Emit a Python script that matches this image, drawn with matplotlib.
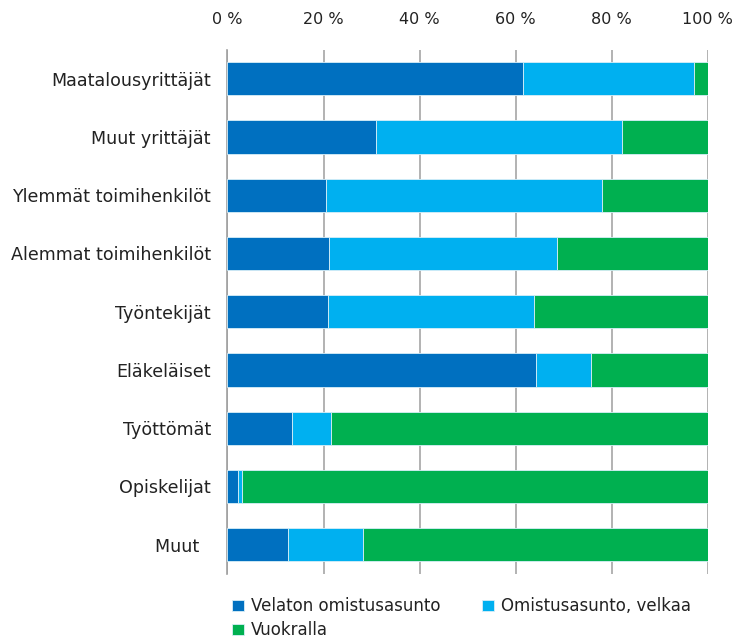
import matplotlib
matplotlib.use("Agg")
import matplotlib.pyplot as plt
import numpy as np
from matplotlib.ticker import FuncFormatter

categories = ["Maatalousyrittäjät", "Muut yrittäjät", "Ylemmät toimihenkilöt",
              "Alemmat toimihenkilöt", "Työntekijät", "Eläkeläiset",
              "Työttömät", "Opiskelijat", "Muut  "]
velaton = [61.5, 30.9, 20.5, 21.2, 20.9, 64.2, 13.5, 2.2, 12.6]
velkaa = [35.7, 51.3, 57.4, 47.4, 42.9, 11.4, 8.0, 0.9, 15.6]
vuokralla = [2.8, 17.8, 22.1, 31.4, 36.2, 24.4, 78.5, 96.9, 71.8]
series_names = ["Velaton omistusasunto", "Omistusasunto, velkaa", "Vuokralla"]
colors = ["#0070C0", "#00B0F0", "#00B050"]
xticks = [0, 20, 40, 60, 80, 100]

fig = plt.figure(figsize=(7.36, 6.41), dpi=100)
ax = fig.add_axes([0.309, 0.105, 0.6527, 0.8175])

y = np.arange(len(categories))
left = np.zeros(len(categories))
handles = []
for vals, c, name in zip([velaton, velkaa, vuokralla], colors, series_names):
    h = ax.barh(y, vals, left=left, height=0.57, color=c, edgecolor="#d8eef8",
                linewidth=0.6, label=name, zorder=3)
    handles.append(h)
    left = left + np.array(vals)

ax.set_ylim(len(categories) - 0.5, -0.5)
ax.set_xlim(0, 100)
ax.set_yticks(y)
ax.set_yticklabels(categories, fontsize=12.6, color="#222222")
ax.set_xticks(xticks)
ax.xaxis.set_major_formatter(FuncFormatter(lambda v, p: f"{int(v)} %"))
ax.xaxis.tick_top()
ax.tick_params(axis="x", which="both", top=True, bottom=False, length=0,
               labelsize=11.5, labelcolor="#222222", pad=16)
ax.tick_params(axis="y", length=0, pad=12)
ax.grid(axis="x", color="#a6a6a6", linewidth=1.2, zorder=0)
for s in ["top", "right", "bottom"]:
    ax.spines[s].set_visible(False)
ax.spines["left"].set_color("#a0a0a0")
ax.spines["left"].set_linewidth(1.2)

order = [0, 2, 1]
leg = fig.legend(handles=[handles[i] for i in order],
                 labels=[series_names[i] for i in order], ncol=2,
                 loc="upper left", bbox_to_anchor=(0.315, 0.068), frameon=False,
                 fontsize=12, handlelength=0.7, handleheight=0.7,
                 handletextpad=0.45, columnspacing=2.5, labelspacing=0.35,
                 borderaxespad=0, borderpad=0)
for t in leg.get_texts():
    t.set_color("#222222")

fig.savefig("out.png", dpi=100)
